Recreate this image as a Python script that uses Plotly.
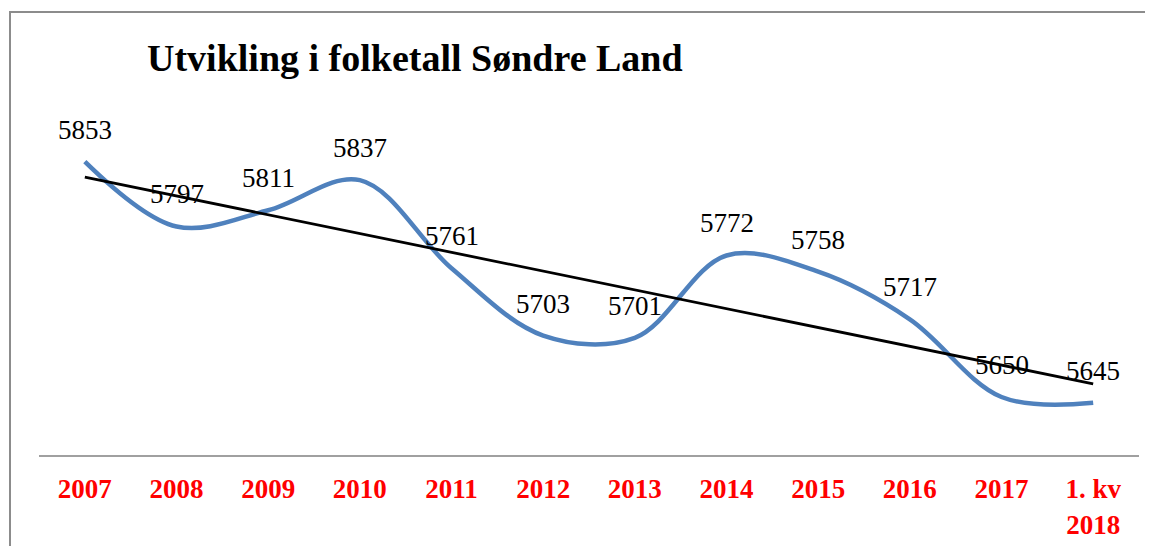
import numpy as np
import plotly.graph_objects as go

categories = ["2007", "2008", "2009", "2010", "2011", "2012", "2013", "2014", "2015", "2016", "2017", "1. kv<br>2018"]
population = [5853, 5797, 5811, 5837, 5761, 5703, 5701, 5772, 5758, 5717, 5650, 5645]
title_text = "Utvikling i folketall Søndre Land"

idx = np.arange(len(population))
slope, intercept = np.polyfit(idx, population, 1)
trend = intercept + slope * idx

# page body has an 8px margin; compensate so the screenshot lines up
OFF = 8
W, H = 1153 - OFF, 546 - OFF
ml, mr, mt, mb = 39 - OFF, 14, 107 - OFF, 91

SERIF = "Liberation Serif"

fig = go.Figure()
fig.add_trace(go.Scatter(
    x=categories, y=population, mode="lines",
    line=dict(color="#4F81BD", width=4.5, shape="spline", smoothing=1.0),
    hoverinfo="skip", showlegend=False,
))
fig.add_trace(go.Scatter(
    x=[categories[0], categories[-1]], y=[trend[0], trend[-1]], mode="lines",
    line=dict(color="#000000", width=2.8),
    hoverinfo="skip", showlegend=False,
))

for i, v in enumerate(population):
    fig.add_annotation(x=i, y=v, xref="x", yref="y", text=str(v), showarrow=False, yshift=32,
                       font=dict(family=SERIF, size=27, color="#000000"))

pw = W - ml - mr
ph = H - mt - mb
fig.add_shape(type="rect", xref="paper", yref="paper",
              x0=(10 - OFF - ml) / pw, x1=(W + 20 - ml) / pw,
              y0=-(mb + 20) / ph, y1=(H - mb - (12 - OFF)) / ph,
              line=dict(color="#8c8c8c", width=2), fillcolor="rgba(0,0,0,0)", layer="below")

fig.update_layout(
    width=W, height=H,
    margin=dict(l=ml, r=mr, t=mt, b=mb, autoexpand=False),
    paper_bgcolor="white", plot_bgcolor="white",
    title=dict(text="<b>" + title_text + "</b>", x=(147 - OFF) / W, xanchor="left", xref="container",
               y=1 - (58 - OFF) / H, yanchor="middle", yref="container",
               font=dict(family=SERIF, size=38, color="#000000")),
    xaxis=dict(type="category", range=[-0.5, len(categories) - 0.5], showgrid=False,
               showline=True, linecolor="#a0a0a0", linewidth=2, zeroline=False,
               ticks="", ticklabelstandoff=9, automargin=False,
               tickfont=dict(family=SERIF, size=27, color="#FF0000", weight="bold")),
    yaxis=dict(range=[5600, 5900], visible=False, showgrid=False, zeroline=False, automargin=False),
)

fig.write_html("out.html")
